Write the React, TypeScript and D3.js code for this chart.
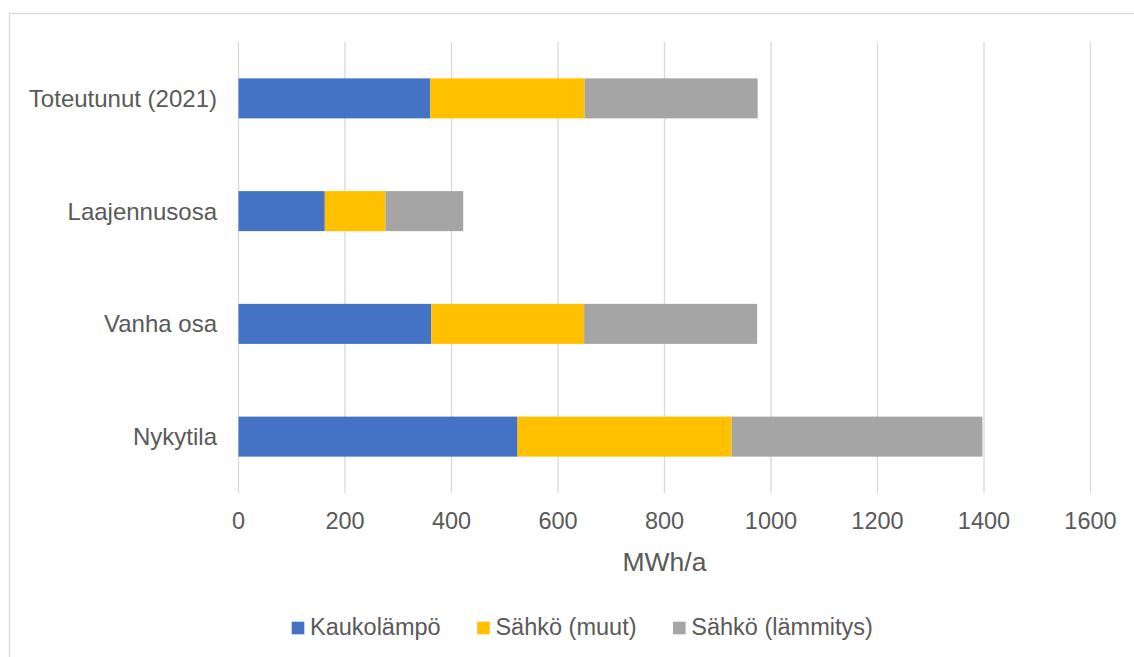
import React, { useRef, useEffect } from 'react';
import * as d3 from 'd3';

// data (MWh/a)
const categories = ['Toteutunut (2021)', 'Laajennusosa', 'Vanha osa', 'Nykytila'];
const seriesNames = ['Kaukolämpö', 'Sähkö (muut)', 'Sähkö (lämmitys)'];
const kaukolampo = [360, 162, 362, 524];
const sahkoMuut = [290, 114, 287, 402];
const sahkoLammitys = [325, 146, 325, 471];
const xTicks = [0, 200, 400, 600, 800, 1000, 1200, 1400, 1600];
const colors = ['#4472c4', '#ffc000', '#a5a5a5'];

const FONT = '"Liberation Sans", Arial, sans-serif';
const TEXT = '#595959';
const GRID = '#d9d9d9';

export default function App() {
  const svgRef = useRef<SVGSVGElement>(null);
  const width = 1134;
  const height = 657;

  useEffect(() => {
    const svg = d3.select(svgRef.current);
    svg.selectAll('*').remove();

    // chart border (runs off the right and bottom edge)
    svg
      .append('rect')
      .attr('x', 9.5)
      .attr('y', 13.5)
      .attr('width', width + 20)
      .attr('height', height + 20)
      .attr('fill', '#fff')
      .attr('stroke', GRID)
      .attr('stroke-width', 1.3);

    const x = d3.scaleLinear().domain([0, 1600]).range([238.5, 1090.5]);
    const y = d3
      .scaleBand()
      .domain(categories)
      .range([42, 493])
      .paddingInner(0.645)
      .paddingOuter(0.3225);

    // gridlines
    svg
      .append('g')
      .selectAll('line')
      .data(xTicks)
      .enter()
      .append('line')
      .attr('x1', d => x(d))
      .attr('x2', d => x(d))
      .attr('y1', 42)
      .attr('y2', 493)
      .attr('stroke', GRID)
      .attr('stroke-width', 1.3);

    // stacked bars
    const rows = categories.map((c, i) => ({
      cat: c,
      'Kaukolämpö': kaukolampo[i],
      'Sähkö (muut)': sahkoMuut[i],
      'Sähkö (lämmitys)': sahkoLammitys[i],
    }));
    const stacked = d3.stack<any>().keys(seriesNames)(rows);

    svg
      .append('g')
      .selectAll('g')
      .data(stacked)
      .enter()
      .append('g')
      .attr('fill', (_, i) => colors[i])
      .selectAll('rect')
      .data(d => d)
      .enter()
      .append('rect')
      .attr('x', d => x(d[0]))
      .attr('width', d => x(d[1]) - x(d[0]))
      .attr('y', d => y(d.data.cat)!)
      .attr('height', y.bandwidth());

    // category labels
    svg
      .append('g')
      .selectAll('text')
      .data(categories)
      .enter()
      .append('text')
      .attr('x', 217)
      .attr('y', d => y(d)! + y.bandwidth() / 2)
      .attr('dy', '0.35em')
      .attr('text-anchor', 'end')
      .attr('font-family', FONT)
      .attr('font-size', 24)
      .attr('fill', TEXT)
      .text(d => d);

    // x tick labels
    svg
      .append('g')
      .selectAll('text')
      .data(xTicks)
      .enter()
      .append('text')
      .attr('x', d => x(d))
      .attr('y', 529)
      .attr('text-anchor', 'middle')
      .attr('font-family', FONT)
      .attr('font-size', 23.5)
      .attr('fill', TEXT)
      .text(d => d);

    // axis title
    svg
      .append('text')
      .attr('x', (x(0) + x(1600)) / 2)
      .attr('y', 571)
      .attr('text-anchor', 'middle')
      .attr('font-family', FONT)
      .attr('font-size', 26.5)
      .attr('fill', TEXT)
      .text('MWh/a');

    // legend
    const legend = svg.append('g');
    let lx = 291.7;
    seriesNames.forEach((name, i) => {
      legend
        .append('rect')
        .attr('x', lx)
        .attr('y', 621.7)
        .attr('width', 12.6)
        .attr('height', 12.6)
        .attr('fill', colors[i]);
      const t = legend
        .append('text')
        .attr('x', lx + 18.3)
        .attr('y', 635)
        .attr('font-family', FONT)
        .attr('font-size', 23.5)
        .attr('fill', TEXT)
        .text(name);
      const w = (t.node() as SVGTextElement).getComputedTextLength();
      lx = lx + 18.3 + w + 36.5;
    });
  }, []);

  return (
    <svg
      ref={svgRef}
      width={width}
      height={height}
      style={{ position: 'absolute', left: 0, top: 0, display: 'block', background: '#fff' }}
    />
  );
}
